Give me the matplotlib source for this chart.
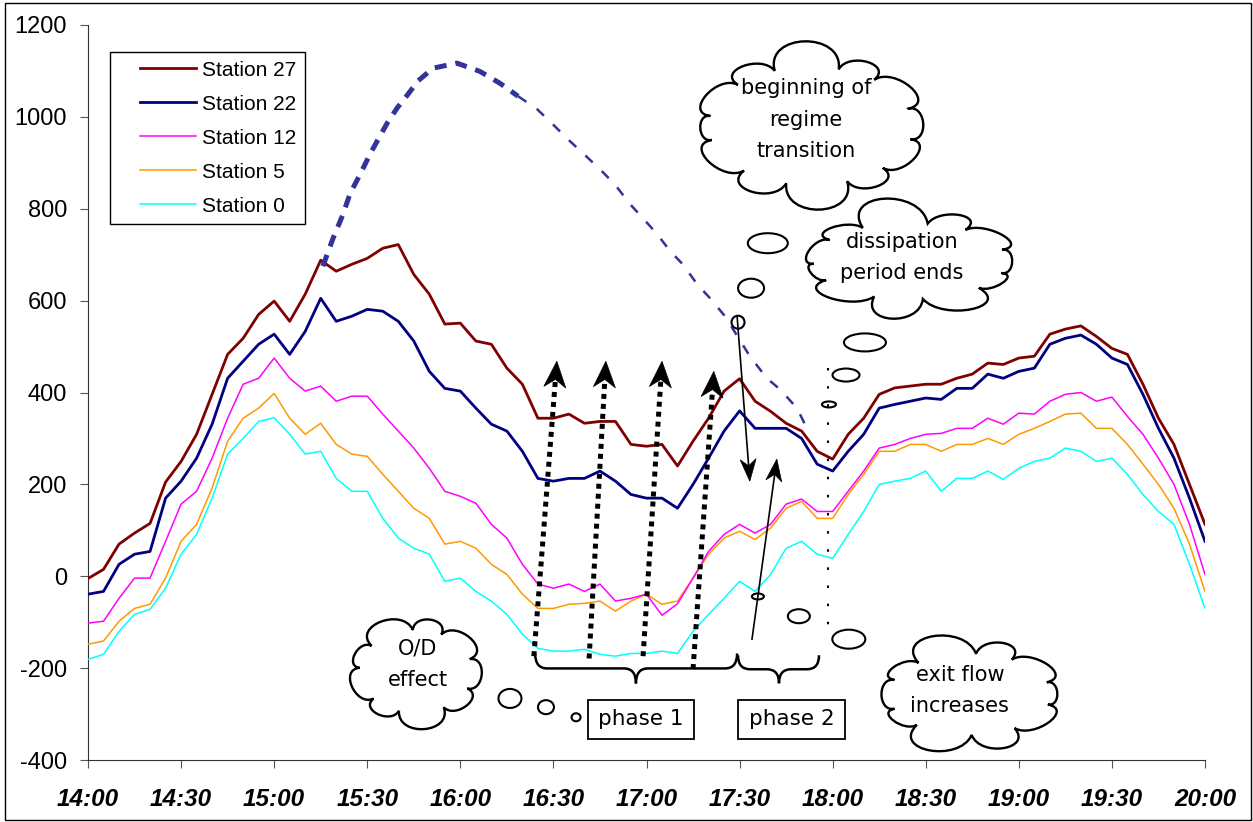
import numpy as np
import matplotlib
matplotlib.use("Agg")
import matplotlib.pyplot as plt
from matplotlib.path import Path
from matplotlib.patches import PathPatch, Ellipse, Rectangle, Polygon
from matplotlib.lines import Line2D
from matplotlib.legend_handler import HandlerLine2D

plt.rcParams["axes.unicode_minus"] = False

# minutes after 14:00, one reading every 5 minutes
minutes = list(range(0, 361, 5))

station_27 = [-5, 15, 70, 94, 115, 205, 250, 309, 396, 483,
              518, 570, 599, 555, 614, 688, 664, 679, 692, 714,
              722, 657, 614, 549, 551, 512, 505, 453, 418, 344,
              344, 353, 333, 337, 337, 287, 283, 287, 240, 294,
              344, 403, 430, 381, 359, 333, 316, 272, 255, 309,
              344, 396, 410, 414, 418, 418, 431, 440, 464, 461,
              475, 479, 527, 538, 545, 522, 496, 483, 418, 344,
              287, 200, 113]
station_22 = [-39, -33, 26, 48, 54, 170, 207, 257, 331, 431,
              468, 505, 527, 483, 533, 605, 555, 566, 581, 577,
              555, 512, 446, 409, 403, 366, 331, 316, 272, 213,
              207, 213, 213, 229, 207, 178, 170, 170, 148, 200,
              257, 316, 360, 322, 322, 322, 300, 244, 229, 272,
              309, 366, 374, 381, 388, 385, 409, 409, 440, 431,
              446, 453, 505, 518, 525, 505, 475, 461, 396, 322,
              257, 170, 76]
station_12 = [-102, -98, -48, -4, -4, 76, 157, 185, 257, 344,
              418, 431, 475, 431, 403, 414, 381, 392, 392, 353,
              316, 279, 235, 185, 174, 159, 113, 83, 26, -17,
              -26, -17, -33, -17, -54, -48, -39, -85, -60, -4,
              54, 91, 113, 94, 113, 157, 168, 141, 141, 185,
              229, 279, 287, 300, 309, 311, 322, 322, 344, 331,
              355, 353, 381, 396, 400, 381, 390, 348, 309, 257,
              200, 113, 4]
station_5 = [-148, -141, -98, -70, -61, -4, 76, 113, 192, 294,
             344, 366, 398, 344, 309, 333, 287, 266, 261, 222,
             185, 148, 126, 70, 76, 61, 26, 4, -39, -70,
             -70, -61, -59, -54, -76, -54, -39, -61, -54, -4,
             48, 83, 98, 80, 105, 148, 163, 126, 126, 178,
             222, 272, 272, 287, 287, 272, 287, 287, 300, 287,
             309, 322, 337, 353, 355, 322, 322, 287, 244, 200,
             148, 70, -33]
station_0 = [-181, -170, -120, -83, -72, -26, 48, 91, 170, 266,
             300, 337, 345, 309, 266, 272, 213, 185, 185, 126,
             83, 61, 48, -11, -4, -33, -54, -83, -126, -157,
             -163, -163, -159, -170, -174, -168, -168, -163, -168, -120,
             -83, -48, -11, -33, 4, 61, 76, 48, 39, 91,
             141, 200, 207, 213, 229, 185, 213, 213, 229, 211,
             235, 250, 257, 279, 272, 250, 257, 222, 178, 141,
             113, 26, -70]

# hand-drawn dashed envelope
curve_min = [75.7, 79.0, 82.2, 84.4, 87.7, 90.9, 93.5, 96.4, 99.6, 103.1,
             106.3, 111.2, 118.9, 126.3, 132.8, 138.6, 144.7, 149.5, 154.7, 159.5,
             165.0, 169.8, 174.7, 178.9, 183.4, 187.6, 191.7, 196.3, 200.5, 205.3,
             213.3, 218.8, 223.0, 228.5, 231.7]
curve_val = [675, 736, 788, 832, 875, 919, 951, 986, 1019, 1049,
             1078, 1106, 1117, 1099, 1073, 1045, 1017, 986, 951, 921,
             886, 853, 810, 779, 745, 708, 679, 636, 605, 566,
             479, 431, 407, 366, 322]

tick_min = [0, 30, 60, 90, 120, 150, 180, 210, 240, 270, 300, 330, 360]
tick_lab = ["14:00", "14:30", "15:00", "15:30", "16:00", "16:30", "17:00",
            "17:30", "18:00", "18:30", "19:00", "19:30", "20:00"]

series = [("Station 27", station_27, "#800000", 2.0),
          ("Station 22", station_22, "#000080", 2.0),
          ("Station 12", station_12, "#FF00FF", 1.1),
          ("Station 5", station_5, "#FF9900", 1.1),
          ("Station 0", station_0, "#00FFFF", 1.1)]

fig = plt.figure(figsize=(12.53, 8.22), dpi=100)
ax = fig.add_axes([88 / 1253, 62 / 822, 1117 / 1253, 735 / 822])
ax.set_xlim(0, 360)
ax.set_ylim(-400, 1200)

for name, vals, col, lw in series[::-1]:
    ax.plot(minutes, vals, color=col, lw=lw, label=name, zorder=3)

ax.plot(curve_min[:16], curve_val[:16], color="#333399", lw=3.6,
        linestyle=(0, (2.4, 1.8)), dash_capstyle="butt", zorder=4, clip_on=False)
ax.plot(curve_min[15:], curve_val[15:], color="#333399", lw=1.8,
        linestyle=(0, (4, 5)), dash_capstyle="butt", zorder=4)

ax.spines["top"].set_visible(False)
ax.spines["right"].set_visible(False)
for s in ["left", "bottom"]:
    ax.spines[s].set_color("#333333")
ax.set_xticks(tick_min)
ax.set_xticklabels(tick_lab, fontfamily="Liberation Sans", fontweight="bold",
                   fontstyle="italic", fontsize=17.5)
ax.set_yticks(range(-400, 1201, 200))
for t in ax.get_yticklabels():
    t.set_fontfamily("Liberation Sans")
    t.set_fontsize(17)
ax.tick_params(axis="y", direction="out", length=6, color="#555555", pad=9)
ax.tick_params(axis="x", direction="out", length=6, color="#555555", pad=14)


class ShortLine(HandlerLine2D):
    def create_artists(self, legend, orig_handle, xdescent, ydescent,
                       width, height, fontsize, trans):
        arts = super().create_artists(legend, orig_handle, xdescent, ydescent,
                                      width, height, fontsize, trans)
        for a in arts:
            xd = np.asarray(a.get_xdata(), dtype=float)
            if len(xd) > 1:
                a.set_xdata(np.linspace(xd[0] + 0.28 * (xd[-1] - xd[0]), xd[-1], len(xd)))
        return arts


handles, labels = ax.get_legend_handles_labels()
leg = ax.legend(handles[::-1], labels[::-1], loc="upper left",
                bbox_to_anchor=(22 / 1117, 708 / 735), borderaxespad=0,
                prop={"family": "Liberation Sans", "size": 15},
                handlelength=3.7, handletextpad=0.3, labelspacing=0.72,
                borderpad=0.42, fancybox=False, framealpha=1, edgecolor="black",
                handler_map={Line2D: ShortLine()})
leg.get_frame().set_linewidth(1.0)
leg.set_zorder(10)

# ---- annotation helpers (pixel sizes, data positions) ----
to_px = ax.transData.transform
to_dat = ax.transData.inverted().transform


def cloud(cx, cy, w, h, nb=11):
    c = to_px((cx, cy))
    a, b = w / 2 * 0.81, h / 2 * 0.72
    jit = [0.0, 0.15, -0.1, 0.12, -0.05, 0.1, -0.12, 0.06, -0.04, 0.12, -0.08]
    ang = [2 * np.pi * (i + jit[i % len(jit)]) / nb + 0.3 for i in range(nb)]
    ang.append(ang[0] + 2 * np.pi)
    verts, codes = [], []
    for i in range(nb):
        p0 = c + np.array([a * np.cos(ang[i]), b * np.sin(ang[i])])
        p1 = c + np.array([a * np.cos(ang[i + 1]), b * np.sin(ang[i + 1])])
        mid = (p0 + p1) / 2
        n = (mid - c) / np.hypot(*(mid - c))
        L = np.hypot(*(p1 - p0))
        d = (p1 - p0) / L
        c1 = p0 + n * 0.6 * L - d * 0.12 * L
        c2 = p1 + n * 0.6 * L + d * 0.12 * L
        if i == 0:
            verts.append(p0)
            codes.append(Path.MOVETO)
        verts += [c1, c2, p1]
        codes += [Path.CURVE4] * 3
    verts.append(verts[0])
    codes.append(Path.CLOSEPOLY)
    ax.add_patch(PathPatch(Path(to_dat(np.array(verts)), codes), fc="white",
                           ec="black", lw=1.7, clip_on=False, zorder=6))


def bubble(cx, cy, w, h):
    c = to_px((cx, cy))
    corner = to_dat(c + np.array([w, h]))
    ax.add_patch(Ellipse((cx, cy), corner[0] - cx, corner[1] - cy, fc="none",
                         ec="black", lw=1.5, clip_on=False, zorder=6))


def brace(x0, x1, xm, ytop, depth):
    p0 = to_px((x0, ytop))
    p1 = to_px((x1, ytop))
    pm = to_px((xm, ytop))
    y, r = p0[1], 12
    ym, yb = y - depth / 2, y - depth
    verts = [(p0[0], y), (p0[0], ym), (p0[0] + r, ym),
             (pm[0] - r, ym), (pm[0], ym), (pm[0], yb),
             (pm[0], ym), (pm[0] + r, ym),
             (p1[0] - r, ym), (p1[0], ym), (p1[0], p1[1])]
    codes = [Path.MOVETO, Path.CURVE3, Path.CURVE3, Path.LINETO, Path.CURVE3,
             Path.CURVE3, Path.CURVE3, Path.CURVE3, Path.LINETO, Path.CURVE3, Path.CURVE3]
    ax.add_patch(PathPatch(Path(to_dat(np.array(verts, float)), codes), fc="none",
                           ec="black", lw=1.8, clip_on=False, zorder=6))


def head(tail, tip, length, width, notch=0.3):
    t0, t1 = to_px(tail), to_px(tip)
    d = (t1 - t0) / np.hypot(*(t1 - t0))
    nrm = np.array([-d[1], d[0]])
    base = t1 - d * length
    pts = [t1, base + nrm * width / 2, t1 - d * length * (1 - notch), base - nrm * width / 2]
    ax.add_patch(Polygon(to_dat(np.array(pts)), closed=True, fc="black", ec="black",
                         lw=0.5, clip_on=False, zorder=8))
    return to_dat(t1 - d * length * (1 - notch))


def dotted_arrow(tail, tip):
    end = head(tail, tip, 26, 22)
    ax.plot([tail[0], end[0]], [tail[1], end[1]], color="black", lw=3.6,
            linestyle=(0, (1, 1)), dash_capstyle="butt", zorder=7, clip_on=False)


def thin_arrow(tail, tip):
    end = head(tail, tip, 22, 16)
    ax.plot([tail[0], end[0]], [tail[1], end[1]], color="black", lw=1.2,
            zorder=7, clip_on=False)


cloud(233.0, 980, 252, 164, nb=12)
cloud(264.9, 686, 238, 106, nb=11)
cloud(105.7, -207, 139, 115, nb=9)
cloud(284.2, -257, 199, 113, nb=10)
tkw = dict(ha="center", va="center", fontsize=15, linespacing=1.7, zorder=7)
ax.text(231.4, 994, "beginning of\nregime\ntransition", **tkw)
ax.text(262.3, 694, "dissipation\nperiod ends", **tkw)
ax.text(106.3, -192, "O/D\neffect", **tkw)
ax.text(281.0, -248, "exit flow\nincreases", **tkw)

for cx, cy, w, h in [(219.1, 725, 40, 20), (213.7, 627, 26, 19), (209.5, 553, 13, 13),
                     (250.4, 509, 42, 18), (244.3, 438, 27, 13), (238.8, 374, 14, 6),
                     (229.1, -87, 22, 14), (245.2, -137, 33, 19), (215.9, -44, 12, 6),
                     (136.0, -266, 23, 19), (147.6, -285, 16, 14), (157.3, -307, 9, 8)]:
    bubble(cx, cy, w, h)

for x0, x1, label in [(161.1, 195.3, "phase 1"), (209.5, 244.0, "phase 2")]:
    ax.add_patch(Rectangle((x0, -355), x1 - x0, 85, fc="white", ec="black",
                           lw=1.3, clip_on=False, zorder=6))
    ax.text((x0 + x1) / 2, -310, label, ha="center", va="center", fontsize=15.5, zorder=7)

brace(144.1, 209.2, 176.6, -168, 30)
brace(209.5, 235.6, 222.7, -172, 28)

dotted_arrow((143.7, -174), (151.1, 468))
dotted_arrow((161.5, -179), (166.9, 468))
dotted_arrow((178.9, -174), (185.0, 468))
dotted_arrow((195.0, -202), (201.7, 446))

thin_arrow((209.2, 566), (213.3, 207))
thin_arrow((214.0, -137), (222.0, 255))

ax.plot([238.6, 238.6], [453, -109], color="black", lw=1.5,
        linestyle=(0, (1.2, 7.5)), zorder=5)

fig.add_artist(Rectangle((5 / 1253, 2 / 822), 1246 / 1253, 817 / 822,
                         transform=fig.transFigure, fill=False, ec="black", lw=1))

fig.savefig("out.png", dpi=100)
